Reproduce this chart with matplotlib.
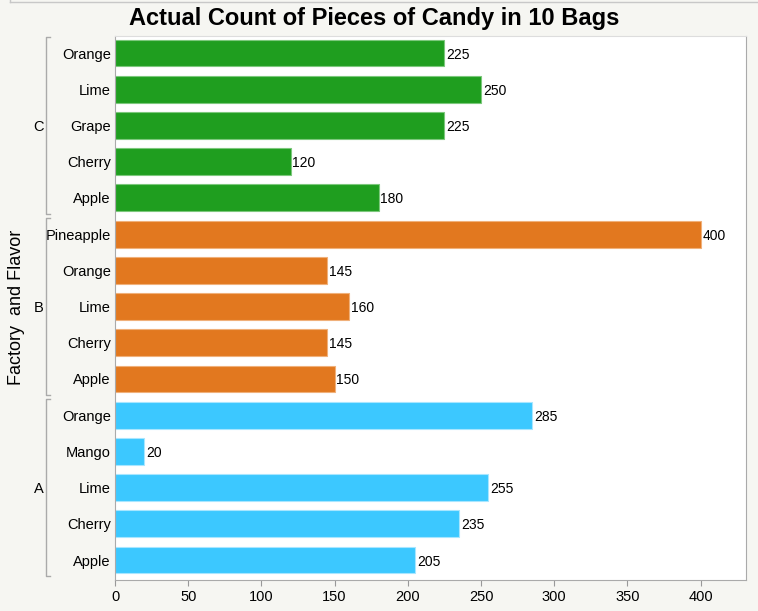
import matplotlib
matplotlib.use("Agg")
import matplotlib.pyplot as plt
from matplotlib.lines import Line2D

plt.rcParams['font.family'] = ['Liberation Sans', 'DejaVu Sans']

factories = ["A", "B", "C"]
flavors = {
    "A": ["Apple", "Cherry", "Lime", "Mango", "Orange"],
    "B": ["Apple", "Cherry", "Lime", "Orange", "Pineapple"],
    "C": ["Apple", "Cherry", "Grape", "Lime", "Orange"],
}
counts = {
    "A": [205, 235, 255, 20, 285],
    "B": [150, 145, 160, 145, 400],
    "C": [180, 120, 225, 250, 225],
}
colors = {"A": "#3cc8ff", "B": "#e2781f", "C": "#1f9e1f"}
edges = {"A": "#a8e6ff", "B": "#f0b07a", "C": "#7cc87c"}

fig = plt.figure(figsize=(7.58, 6.11), dpi=100, facecolor="#f6f6f2")
W, H = 758, 611
ax = fig.add_axes([115 / W, 1 - 580 / H, (746 - 115) / W, (580 - 36) / H])
ax.set_facecolor("white")

labels = []
pos = 0
group_ranges = {}
for f in factories:
    start = pos
    for fl, v in zip(flavors[f], counts[f]):
        ax.barh(pos, v, height=0.74, color=colors[f], edgecolor=edges[f], linewidth=0.8)
        ax.text(v + 1.2, pos, str(v), va="center_baseline", ha="left", fontsize=10)
        labels.append(fl)
        pos += 1
    group_ranges[f] = (start, pos - 1)

ax.set_yticks(range(len(labels)))
ax.set_yticklabels(labels, fontsize=10.5)
ax.set_xlim(0, 431)
ax.set_ylim(-0.55, len(labels) - 1 + 0.47)
ax.set_xticks([0, 50, 100, 150, 200, 250, 300, 350, 400])
ax.tick_params(axis="x", labelsize=10.5, color="#999999", length=4)
ax.tick_params(axis="y", length=0, pad=3)
for s in ax.spines.values():
    s.set_color("#aaaaaa")
ax.spines["top"].set_color("#dddddd")

# group brackets
trans = ax.get_yaxis_transform()
bx = (46 - 115) / (746 - 115)
for f in factories:
    lo, hi = group_ranges[f]
    y0, y1 = lo - 0.44, hi + 0.44
    ax.add_line(Line2D([bx + 0.006, bx, bx, bx + 0.006], [y0, y0, y1, y1],
                       transform=trans, color="#aaaaaa", lw=1, clip_on=False))
    ax.text((39 - 115) / (746 - 115), (lo + hi) / 2, f, transform=trans,
            ha="center", va="center_baseline", fontsize=10.5)

fig.text(17 / W, 1 - 307 / H, "Factory  and Flavor", rotation=90,
         ha="center", va="center", fontsize=13)
fig.text(374 / W, 1 - 19 / H, "Actual Count of Pieces of Candy in 10 Bags",
         ha="center", va="center", fontsize=17, fontweight="bold")
fig.add_artist(Line2D([10 / W, 1], [1 - 2 / H, 1 - 2 / H], transform=fig.transFigure,
                      color="#c8c8c8", lw=1))
fig.add_artist(Line2D([10 / W, 10 / W], [1 - 2 / H, 1], transform=fig.transFigure,
                      color="#c8c8c8", lw=1))

fig.savefig("out.png", dpi=100, facecolor=fig.get_facecolor())
